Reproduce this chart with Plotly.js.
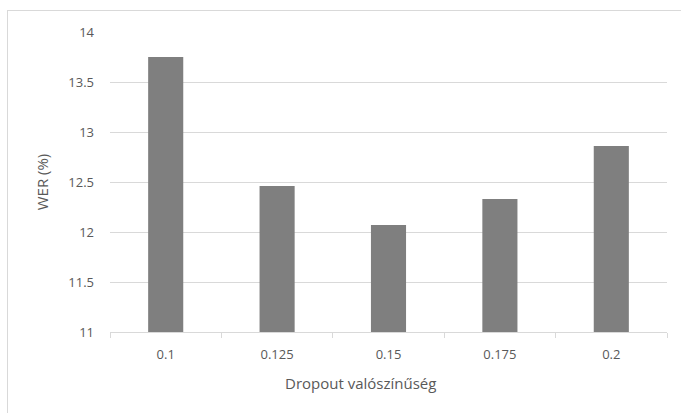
<!DOCTYPE html>
<html><head><meta charset="utf-8">
<script src="https://cdn.plot.ly/plotly-3.0.1.min.js"></script>
<style>
html,body{margin:0;padding:0;background:#fff;overflow:hidden;}
#frame{position:absolute;left:7px;top:10px;width:700px;height:420px;border:1px solid #d9d9d9;box-sizing:border-box;}
#chart{position:absolute;left:0;top:0;width:681px;height:413px;}
</style></head>
<body>
<div id="frame"></div>
<div id="chart"></div>
<script>
const categories = ["0.1", "0.125", "0.15", "0.175", "0.2"];
const werValues = [13.75, 12.46, 12.07, 12.33, 12.86];
const yTicks = [11, 11.5, 12, 12.5, 13, 13.5, 14];
const xTitle = "Dropout valószínűség";
const yTitle = "WER (%)";

const fontFam = "Open Sans, Liberation Sans, sans-serif";
Plotly.newPlot('chart', [{
  type: 'bar',
  x: categories,
  y: werValues,
  marker: {color: '#7f7f7f', line: {width: 0}},
  hoverinfo: 'none'
}], {
  width: 681, height: 413,
  margin: {l: 110, r: 14, t: 32, b: 81},
  paper_bgcolor: 'rgba(0,0,0,0)',
  plot_bgcolor: 'rgba(0,0,0,0)',
  bargap: 0.685,
  font: {family: fontFam, color: '#595959', size: 13},
  xaxis: {
    type: 'category',
    tickson: 'boundaries',
    ticks: 'outside', ticklen: 5, tickcolor: '#d9d9d9',
    showline: true, linecolor: '#d9d9d9', linewidth: 1,
    showgrid: false,
    ticklabelstandoff: 10,
    tickfont: {size: 13, color: '#595959'}
  },
  yaxis: {
    range: [11, 14],
    tickvals: yTicks,
    ticktext: yTicks.map(String),
    showgrid: true, gridcolor: '#d9d9d9', gridwidth: 1,
    zeroline: false, showline: false, ticks: '',
    ticklabelstandoff: 15,
    tickfont: {size: 13, color: '#595959'},
    title: {text: yTitle, font: {size: 15, color: '#595959'}, standoff: 16}
  },
  annotations: [{
    text: xTitle, showarrow: false,
    xref: 'paper', yref: 'paper',
    x: 0.4506, y: -0.17, xanchor: 'center', yanchor: 'middle',
    font: {size: 15, color: '#595959'}
  }],
  showlegend: false
}, {staticPlot: true});
</script>
</body></html>
